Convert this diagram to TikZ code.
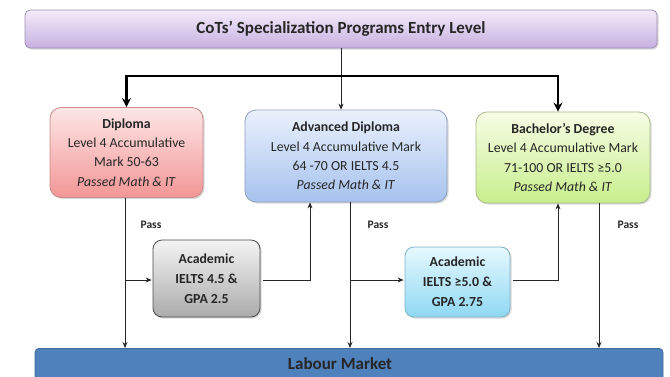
\documentclass[tikz,border=0pt]{standalone}
\usepackage{fontspec}
\setmainfont{Carlito}
\usetikzlibrary{arrows.meta,shadows,calc}
\definecolor{txt}{HTML}{262626}
\definecolor{topA}{HTML}{F3ECFA}
\definecolor{topB}{HTML}{C6B0E0}
\definecolor{topL}{HTML}{9E8FB3}
\definecolor{pinkA}{HTML}{FDE6E6}
\definecolor{pinkB}{HTML}{F39696}
\definecolor{pinkL}{HTML}{C98A8A}
\definecolor{bluA}{HTML}{EAF1FC}
\definecolor{bluB}{HTML}{A6C2EE}
\definecolor{bluL}{HTML}{8EA0BE}
\definecolor{grnA}{HTML}{F7FDE6}
\definecolor{grnB}{HTML}{C8EE8C}
\definecolor{grnL}{HTML}{A6B98A}
\definecolor{gryA}{HTML}{F4F4F4}
\definecolor{gryB}{HTML}{ABABAB}
\definecolor{gryL}{HTML}{4A4A4A}
\definecolor{cyA}{HTML}{E6F8FE}
\definecolor{cyB}{HTML}{8FD8F3}
\definecolor{cyL}{HTML}{7FB3C6}
\definecolor{labC}{HTML}{4F81BD}
\definecolor{labL}{HTML}{3F6B9E}
\tikzset{
  box/.style={draw, line width=0.8pt, align=center, text=txt, inner sep=1pt,
    drop shadow={shadow xshift=1.5pt, shadow yshift=-1.5pt, opacity=0.25, fill=black!60}},
  prog/.style={box, rounded corners=11pt, font=\fontsize{13.8}{19.3}\selectfont},
  acad/.style={box, rounded corners=9pt, font=\bfseries\fontsize{13.8}{20}\selectfont},
  thin/.style={line width=0.8pt, draw=black!85, -{Stealth[length=6pt,width=5pt]}},
  thk/.style={line width=2.4pt, draw=black, -{Stealth[length=9pt,width=9pt]}},
  passlbl/.style={font=\bfseries\fontsize{11.5}{13}\selectfont, text=txt},
  bigt/.style={font=\bfseries\fontsize{17}{19}\selectfont, text=txt}
}
\begin{document}
\begin{tikzpicture}[x=1pt,y=-1pt]
\useasboundingbox (0,0) rectangle (670,376);
\clip (0,0) rectangle (670,376);
% top box
\node[box, bigt, rounded corners=5pt, top color=topA, bottom color=topB, draw=topL,
  minimum width=632pt, minimum height=38pt]
  (top) at (341,29) {CoTs’ Specialization Programs Entry Level};
% program boxes
\node[prog, top color=pinkA, bottom color=pinkB, draw=pinkL,
  minimum width=153pt, minimum height=90pt] (dip) at (126.5,152.5)
  {\textbf{Diploma}\\Level 4 Accumulative\\Mark 50-63\\\textit{Passed Math \& IT}};
\node[prog, top color=bluA, bottom color=bluB, draw=bluL,
  minimum width=202pt, minimum height=92pt] (adv) at (346,156)
  {\textbf{Advanced Diploma}\\Level 4 Accumulative Mark\\64 -70 OR IELTS 4.5\\\textit{Passed Math \& IT}};
\node[prog, top color=grnA, bottom color=grnB, draw=grnL,
  minimum width=174pt, minimum height=91pt] (bach) at (563,157.5)
  {\textbf{Bachelor’s Degree}\\Level 4 Accumulative Mark\\71-100 OR IELTS ≥5.0\\\textit{Passed Math \& IT}};
% academic boxes
\node[acad, top color=gryA, bottom color=gryB, draw=gryL,
  minimum width=107pt, minimum height=77pt] (ac1) at (206.5,278.5)
  {Academic\\IELTS 4.5 \&\\GPA 2.5};
\node[acad, top color=cyA, bottom color=cyB, draw=cyL,
  minimum width=105pt, minimum height=70pt] (ac2) at (457.5,282)
  {Academic\\IELTS ≥5.0 \&\\GPA 2.75};
% labour market
\node[draw=labL, fill=labC, rounded corners=4pt, line width=0.8pt,
  minimum width=628pt, minimum height=40pt, anchor=north]
  (lab) at (349,348) {};
\node[bigt] (labt) at (340,364) {Labour Market};
% top connectors
\coordinate (hmid) at (top.south |- 0,76);
\draw[thin] (top.south) -- (top.south |- adv.north);
\draw[thk] (hmid) -| (dip.north);
\draw[thk] (hmid) -| ([xshift=-5pt]bach.north);
% drops to labour market
\coordinate (dipd) at ([xshift=-1.5pt]dip.south);
\coordinate (advd) at ([xshift=4pt]adv.south);
\coordinate (bachd) at ([xshift=36pt]bach.south);
\draw[thin] (dipd) -- (dipd |- lab.north);
\draw[thin] (advd) -- (advd |- lab.north);
\draw[thin] (bachd) -- (bachd |- lab.north);
% branches
\coordinate (b1) at (dipd |- 0,280);
\coordinate (b2) at (advd |- 0,280);
\draw[thin] (b1) -- ([xshift=-1pt]ac1.west |- b1);
\draw[thin] (b2) -- ([xshift=-1pt]ac2.west |- b2);
\coordinate (u1) at ([xshift=-36pt]adv.south);
\coordinate (u2) at ([xshift=-5pt]bach.south);
\draw[thin] ([xshift=3pt]ac1.east |- b1) -| (u1);
\draw[thin] ([xshift=3pt]ac2.east |- b2) -| (u2);
% pass labels
\node[passlbl] (p1) at (151,225) {Pass};
\node[passlbl] (p2) at (378,225) {Pass};
\node[passlbl] (p3) at (628,225) {Pass};
\end{tikzpicture}
\end{document}
